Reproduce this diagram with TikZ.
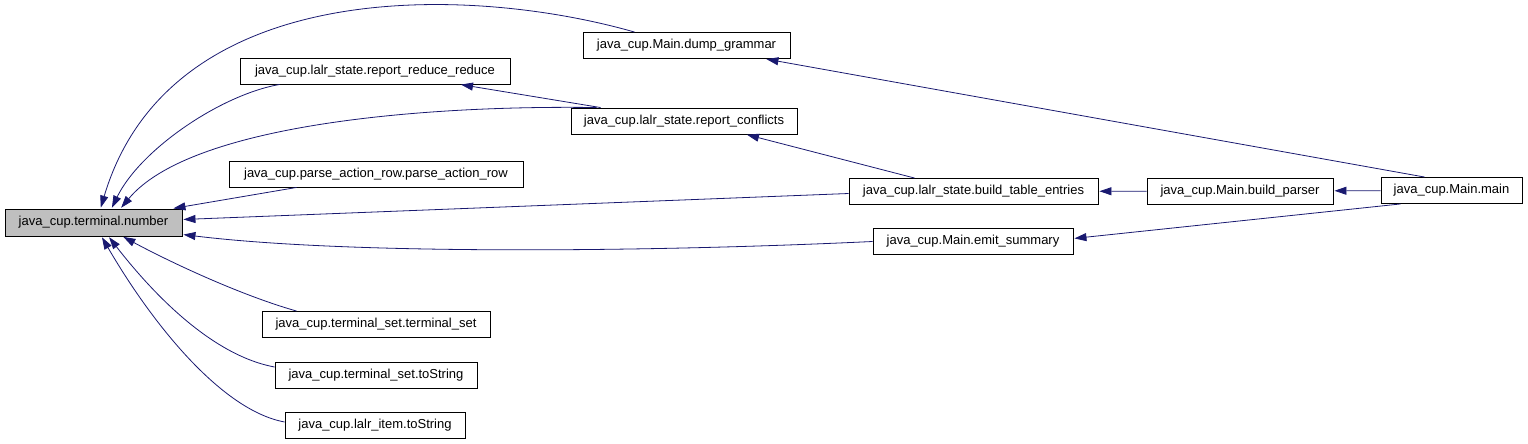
\documentclass[tikz,border=0pt]{standalone}
\usepackage{fontspec}
\setmainfont{Liberation Sans}
\usetikzlibrary{arrows.meta,calc}

\definecolor{edgeblue}{HTML}{191970}
\definecolor{hilite}{HTML}{BFBFBF}

\begin{document}
\begin{tikzpicture}[
  x=1pt, y=-1pt,
  font=\fontsize{13}{15}\selectfont,
  >={Triangle[length=12pt,width=8pt]},
  fn/.style={draw, line width=0.9pt, minimum height=26pt, inner sep=0pt, anchor=center},
  current/.style={fn, fill=hilite},
  call/.style={draw=edgeblue, line width=0.8pt, ->, color=edgeblue, shorten >=1pt},
]
\useasboundingbox (0,0) rectangle (1528,444);

% the function itself
\node[current, minimum width=177pt, minimum height=27pt] (number) at (93.5,222.5) {java\_cup.terminal.number};

% direct callers
\node[fn, minimum width=207pt] (dumpgrammar) at (686.5,45.5)  {java\_cup.Main.dump\_grammar};
\node[fn, minimum width=270pt] (reportrr)    at (375,71)      {java\_cup.lalr\_state.report\_reduce\_reduce};
\node[fn, minimum width=226pt] (reportconf)  at (684,121)     {java\_cup.lalr\_state.report\_conflicts};
\node[fn, minimum width=294pt] (parserow)    at (376,174)     {java\_cup.parse\_action\_row.parse\_action\_row};
\node[fn, minimum width=249pt] (buildtable)  at (973.5,191.5) {java\_cup.lalr\_state.build\_table\_entries};
\node[fn, minimum width=200pt] (emitsum)     at (973,241.5)   {java\_cup.Main.emit\_summary};
\node[fn, minimum width=228pt] (tsetctor)    at (376,324.5)   {java\_cup.terminal\_set.terminal\_set};
\node[fn, minimum width=202pt] (tsetstr)     at (376,375)     {java\_cup.terminal\_set.toString};
\node[fn, minimum width=180pt] (itemstr)     at (375,425)     {java\_cup.lalr\_item.toString};

% callers further up
\node[fn, minimum width=186pt] (buildparser) at (1240,191)    {java\_cup.Main.build\_parser};
\node[fn, minimum width=141pt] (mainmain)    at (1451.5,190.5) {java\_cup.Main.main};

% calls into number (top side)
\draw[call] ($(dumpgrammar.north)+(-52,0)$) .. controls (470,-15) and (170,-25) .. ($(number.north)+(7,0)$);
\draw[call] ($(reportrr.south west)+(40,0)$) .. controls (220,95) and (140,150) .. ($(number.north)+(18,0)$);
\draw[call] ($(reportconf.north west)+(26,0)$) .. controls (420,105) and (190,125) .. ($(number.north)+(27,0)$);
\draw[call] ($(parserow.south west)+(68,0)$) -- ($(number.north east)+(-10,0)$);

% calls into number (right side)
\draw[call] ($(buildtable.west)+(0,2)$) -- ($(number.east)+(0,-3)$);
\draw[call] (emitsum.west) .. controls (650,252) and (350,255) .. ($(number.south east)+(0,-2)$);

% calls into number (bottom side)
\draw[call] ($(tsetctor.north west)+(35,0)$) .. controls (240,295) and (170,262) .. ($(number.south)+(29,0)$);
\draw[call] ($(tsetstr.west)+(0,-8)$) .. controls (210,355) and (150,290) .. ($(number.south)+(15,0)$);
\draw[call] ($(itemstr.west)+(0,-3)$) .. controls (220,410) and (150,320) .. ($(number.south)+(8,0)$);

% calls between the callers
\draw[call] ($(reportconf.north west)+(30,0)$) -- ($(reportrr.south)+(85,0)$);
\draw[call] ($(buildtable.north west)+(66,0)$) -- ($(reportconf.south)+(62,0)$);
\draw[call] (buildparser) -- (buildtable);
\draw[call] (mainmain) -- (buildparser);
\draw[call] ($(mainmain.north west)+(44,0)$) -- ($(dumpgrammar.south east)+(-25,0)$);
\draw[call] ($(mainmain.south west)+(20,0)$) -- ($(emitsum.east)+(0,-3)$);
\end{tikzpicture}
\end{document}
